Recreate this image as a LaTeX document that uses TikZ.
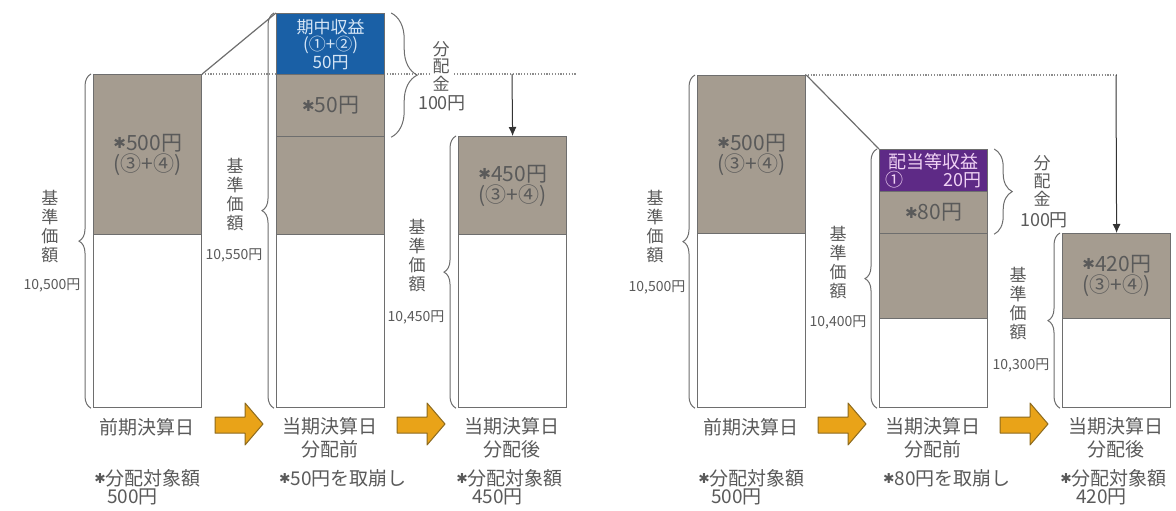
\documentclass[tikz,border=0pt]{standalone}
\usepackage{fontspec}
\setmainfont{Noto Sans CJK JP}
\newfontfamily\dvs{DejaVu Sans}
\usetikzlibrary{decorations.pathreplacing,arrows.meta}
\definecolor{tg}{HTML}{5A5A5A}
\definecolor{lc}{HTML}{6E6E6E}
\definecolor{gf}{HTML}{A59C90}
\definecolor{bf}{HTML}{1A60A6}
\definecolor{pf}{HTML}{5E2A86}
\definecolor{bt}{HTML}{D6E6F6}
\definecolor{ptx}{HTML}{F0D2F4}
\definecolor{of}{HTML}{E9A318}
\definecolor{od}{HTML}{8C6A1E}
\newcommand\ak{\makebox[0.62em]{\raisebox{0.08em}{\dvs\scalebox{0.72}{✱}}}}
\newcommand\fs[2]{\fontsize{#1}{#2}\selectfont}
\begin{document}
\begin{tikzpicture}[x=1pt,y=-1pt,
  sec/.style={draw=lc, line width=1.2pt, minimum width=108pt, inner sep=0pt,
    anchor=north west, align=center, text=tg, font=\fs{21}{21}},
  br/.style={decorate, decoration={brace, amplitude=12pt}, draw=lc, line width=1pt},
  brd/.style={decorate, decoration={brace, amplitude=#1}, draw=lc, line width=1pt},
  lab/.style={align=center, text=tg, inner sep=0pt, font=\fs{17}{19}},
  num/.style={text=tg, inner sep=0pt, font=\fs{14}{14}},
  bot/.style={align=center, text=tg, inner sep=0pt, font=\fs{19}{23}},
  oarr/.style={fill=of, draw=od, line width=1pt, line join=round},
  dotl/.style={draw=black!45, dash pattern=on 1.2pt off 1.6pt, line width=1.2pt},
  darr/.style={draw=black!80, line width=1pt, -{Latex[length=9pt,width=8pt]}}]
\fill[white] (0,0) rectangle (1176,511);
\useasboundingbox (0,0) rectangle (1176,511);

% ---------- left panel ----------
\coordinate (d1s) at (202,74);
\coordinate (d1e) at (577,74);
\coordinate (a1s) at (512,74);
\draw[dotl] (d1s) -- (d1e);

\node[sec, fill=gf, minimum height=160pt] (b1g) at (93,74) {\ak{}500円\\(③+④)};
\node[sec, fill=white, minimum height=173pt] (b1w) at (93,234) {};

\node[sec, fill=bf, text=bt, minimum height=61pt, font=\fs{17}{17.5}] (b2t) at (276,13) {期中収益\\(①+②)\\50円};
\node[sec, fill=gf, minimum height=62pt] (b2a) at (276,74) {\ak{}50円};
\node[sec, fill=gf, minimum height=98pt] (b2b) at (276,136) {};
\node[sec, fill=white, minimum height=173pt] (b2w) at (276,234) {};

\node[sec, fill=gf, minimum height=98pt] (b3g) at (458,136) {\ak{}450円\\(③+④)};
\node[sec, fill=white, minimum height=173pt] (b3w) at (458,234) {};

\draw[lc, line width=1.2pt] (b1g.north east) -- (b2t.north west);
\draw[darr] (a1s) -- (b3g.north);

\draw[br] ([xshift=-2pt]b1w.south west) -- ([xshift=-2pt]b1g.north west);
\draw[br] ([xshift=-2pt]b2w.south west) -- ([xshift=-2pt]b2t.north west);
\draw[br] ([xshift=-2pt]b3w.south west) -- ([xshift=-2pt]b3g.north west);
\draw[brd=26pt] ([xshift=6pt]b2t.north east) -- ([xshift=6pt]b2a.south east);

\node[lab] (l1) at (50,227) {基\\準\\価\\額};
\node[num] (n1) at (52,285) {10,500円};
\node[lab] (l2) at (235,195) {基\\準\\価\\額};
\node[num] (n2) at (234,255) {10,550円};
\node[lab] (l3) at (417,256) {基\\準\\価\\額};
\node[num] (n3) at (416,317) {10,450円};
\node[lab, fill=white, inner sep=2pt, font=\fs{17}{17.5}] (k1) at (441,66) {分\\配\\金};
\node[bot, font=\fs{18}{18}] (m1) at (442,103) {100円};

\draw[oarr] (215,417) -- (245,417) -- (245,403) -- (263,424) -- (245,445) -- (245,433) -- (215,433) -- cycle;
\draw[oarr] (397,417) -- (427,417) -- (427,403) -- (445,424) -- (427,445) -- (427,433) -- (397,433) -- cycle;

\node[bot] (t1) at (147,427) {前期決算日};
\node[bot] (t2) at (330,438) {当期決算日\\分配前};
\node[bot] (t3) at (512,438) {当期決算日\\分配後};
\node[bot, anchor=west] (u1) at (94,478) {\ak{}分配対象額};
\node[bot, anchor=west] (v1) at (107,497) {500円};
\node[bot] (u2) at (343,478) {\ak{}50円を取崩し};
\node[bot, anchor=west] (u3) at (456,478) {\ak{}分配対象額};
\node[bot, anchor=west] (v3) at (472,497) {450円};

% ---------- right panel ----------
\coordinate (d2s) at (805,75);
\coordinate (a2s) at (1116,75);
\draw[dotl] (d2s) -- (a2s);

\node[sec, fill=gf, minimum height=158pt] (b4g) at (697,75) {\ak{}500円\\(③+④)};
\node[sec, fill=white, minimum height=174pt] (b4w) at (697,233) {};

\node[sec, fill=pf, text=ptx, minimum height=42pt, font=\fs{18}{18}] (b5t) at (879,149) {配当等収益\\\makebox[96pt]{①\hfill20円}};
\node[sec, fill=gf, minimum height=42pt] (b5a) at (879,191) {\ak{}80円};
\node[sec, fill=gf, minimum height=85pt] (b5b) at (879,233) {};
\node[sec, fill=white, minimum height=89pt] (b5w) at (879,318) {};

\node[sec, fill=gf, minimum height=85pt] (b6g) at (1062,233) {\ak{}420円\\(③+④)};
\node[sec, fill=white, minimum height=89pt] (b6w) at (1062,318) {};

\draw[lc, line width=1.2pt] (b4g.north east) -- (b5t.north west);
\draw[darr] (a2s) -- (b6g.north);

\draw[br] ([xshift=-2pt]b4w.south west) -- ([xshift=-2pt]b4g.north west);
\draw[br] ([xshift=-2pt]b5w.south west) -- ([xshift=-2pt]b5t.north west);
\draw[br] ([xshift=-2pt]b6w.south west) -- ([xshift=-2pt]b6g.north west);
\draw[brd=18pt] ([xshift=6pt]b5t.north east) -- ([xshift=6pt]b5a.south east);

\node[lab] (l4) at (655,227) {基\\準\\価\\額};
\node[num] (n4) at (657,287) {10,500円};
\node[lab] (l5) at (838,263) {基\\準\\価\\額};
\node[num] (n5) at (838,322) {10,400円};
\node[lab] (l6) at (1018,304) {基\\準\\価\\額};
\node[num] (n6) at (1021,365) {10,300円};
\node[lab, font=\fs{17}{18}] (k2) at (1042,181) {分\\配\\金};
\node[bot, font=\fs{18}{18}] (m2) at (1044,220) {100円};

\draw[oarr] (818,417) -- (848,417) -- (848,403) -- (866,424) -- (848,445) -- (848,433) -- (818,433) -- cycle;
\draw[oarr] (1000,417) -- (1030,417) -- (1030,403) -- (1048,424) -- (1030,445) -- (1030,433) -- (1000,433) -- cycle;

\node[bot] (t4) at (751,427) {前期決算日};
\node[bot] (t5) at (933,438) {当期決算日\\分配前};
\node[bot] (t6) at (1116,438) {当期決算日\\分配後};
\node[bot, anchor=west] (u4) at (698,478) {\ak{}分配対象額};
\node[bot, anchor=west] (v4) at (711,497) {500円};
\node[bot] (u5) at (947,478) {\ak{}80円を取崩し};
\node[bot, anchor=west] (u6) at (1060,478) {\ak{}分配対象額};
\node[bot, anchor=west] (v6) at (1076,497) {420円};
\end{tikzpicture}
\end{document}
